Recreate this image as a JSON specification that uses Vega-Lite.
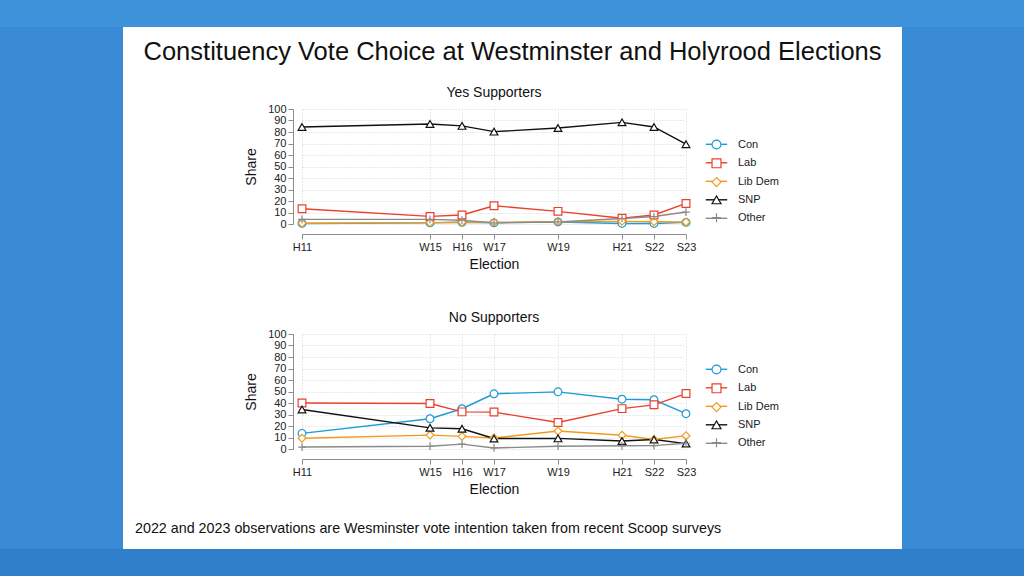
{
  "$schema": "https://vega.github.io/schema/vega-lite/v6.json",
  "padding": 0,
  "background": "white",
  "spacing": 0,
  "datasets": {
    "one": [{"k": 1}],
    "votes": [
      {"group": "Yes", "party": "Con", "year": 2011, "share": 0.5},
      {"group": "Yes", "party": "Con", "year": 2015, "share": 1.0},
      {"group": "Yes", "party": "Con", "year": 2016, "share": 1.5},
      {"group": "Yes", "party": "Con", "year": 2017, "share": 1.0},
      {"group": "Yes", "party": "Con", "year": 2019, "share": 1.8},
      {"group": "Yes", "party": "Con", "year": 2021, "share": 0.5},
      {"group": "Yes", "party": "Con", "year": 2022, "share": 0.5},
      {"group": "Yes", "party": "Con", "year": 2023, "share": 1.4},
      {"group": "Yes", "party": "Lab", "year": 2011, "share": 13.3},
      {"group": "Yes", "party": "Lab", "year": 2015, "share": 6.6},
      {"group": "Yes", "party": "Lab", "year": 2016, "share": 7.8},
      {"group": "Yes", "party": "Lab", "year": 2017, "share": 15.9},
      {"group": "Yes", "party": "Lab", "year": 2019, "share": 11.0},
      {"group": "Yes", "party": "Lab", "year": 2021, "share": 5.0},
      {"group": "Yes", "party": "Lab", "year": 2022, "share": 7.8},
      {"group": "Yes", "party": "Lab", "year": 2023, "share": 17.9},
      {"group": "Yes", "party": "Lib Dem", "year": 2011, "share": 0.7},
      {"group": "Yes", "party": "Lib Dem", "year": 2015, "share": 1.2},
      {"group": "Yes", "party": "Lib Dem", "year": 2016, "share": 1.5},
      {"group": "Yes", "party": "Lib Dem", "year": 2017, "share": 1.5},
      {"group": "Yes", "party": "Lib Dem", "year": 2019, "share": 2.0},
      {"group": "Yes", "party": "Lib Dem", "year": 2021, "share": 2.3},
      {"group": "Yes", "party": "Lib Dem", "year": 2022, "share": 2.0},
      {"group": "Yes", "party": "Lib Dem", "year": 2023, "share": 1.8},
      {"group": "Yes", "party": "SNP", "year": 2011, "share": 84.4},
      {"group": "Yes", "party": "SNP", "year": 2015, "share": 87.0},
      {"group": "Yes", "party": "SNP", "year": 2016, "share": 85.3},
      {"group": "Yes", "party": "SNP", "year": 2017, "share": 80.3},
      {"group": "Yes", "party": "SNP", "year": 2019, "share": 83.5},
      {"group": "Yes", "party": "SNP", "year": 2021, "share": 88.4},
      {"group": "Yes", "party": "SNP", "year": 2022, "share": 84.4},
      {"group": "Yes", "party": "SNP", "year": 2023, "share": 69.4},
      {"group": "Yes", "party": "Other", "year": 2011, "share": 4.0},
      {"group": "Yes", "party": "Other", "year": 2015, "share": 4.0},
      {"group": "Yes", "party": "Other", "year": 2016, "share": 3.3},
      {"group": "Yes", "party": "Other", "year": 2017, "share": 1.0},
      {"group": "Yes", "party": "Other", "year": 2019, "share": 1.8},
      {"group": "Yes", "party": "Other", "year": 2021, "share": 4.8},
      {"group": "Yes", "party": "Other", "year": 2022, "share": 6.5},
      {"group": "Yes", "party": "Other", "year": 2023, "share": 10.4},
      {"group": "No", "party": "Con", "year": 2011, "share": 13.6},
      {"group": "No", "party": "Con", "year": 2015, "share": 26.3},
      {"group": "No", "party": "Con", "year": 2016, "share": 35.0},
      {"group": "No", "party": "Con", "year": 2017, "share": 48.0},
      {"group": "No", "party": "Con", "year": 2019, "share": 49.7},
      {"group": "No", "party": "Con", "year": 2021, "share": 43.3},
      {"group": "No", "party": "Con", "year": 2022, "share": 42.8},
      {"group": "No", "party": "Con", "year": 2023, "share": 30.7},
      {"group": "No", "party": "Lab", "year": 2011, "share": 40.0},
      {"group": "No", "party": "Lab", "year": 2015, "share": 39.6},
      {"group": "No", "party": "Lab", "year": 2016, "share": 32.3},
      {"group": "No", "party": "Lab", "year": 2017, "share": 32.1},
      {"group": "No", "party": "Lab", "year": 2019, "share": 23.0},
      {"group": "No", "party": "Lab", "year": 2021, "share": 35.1},
      {"group": "No", "party": "Lab", "year": 2022, "share": 38.4},
      {"group": "No", "party": "Lab", "year": 2023, "share": 48.2},
      {"group": "No", "party": "Lib Dem", "year": 2011, "share": 9.4},
      {"group": "No", "party": "Lib Dem", "year": 2015, "share": 12.1},
      {"group": "No", "party": "Lib Dem", "year": 2016, "share": 11.0},
      {"group": "No", "party": "Lib Dem", "year": 2017, "share": 9.6},
      {"group": "No", "party": "Lib Dem", "year": 2019, "share": 15.6},
      {"group": "No", "party": "Lib Dem", "year": 2021, "share": 12.0},
      {"group": "No", "party": "Lib Dem", "year": 2022, "share": 8.3},
      {"group": "No", "party": "Lib Dem", "year": 2023, "share": 11.6},
      {"group": "No", "party": "SNP", "year": 2011, "share": 34.4},
      {"group": "No", "party": "SNP", "year": 2015, "share": 18.4},
      {"group": "No", "party": "SNP", "year": 2016, "share": 17.6},
      {"group": "No", "party": "SNP", "year": 2017, "share": 9.1},
      {"group": "No", "party": "SNP", "year": 2019, "share": 9.2},
      {"group": "No", "party": "SNP", "year": 2021, "share": 7.0},
      {"group": "No", "party": "SNP", "year": 2022, "share": 8.2},
      {"group": "No", "party": "SNP", "year": 2023, "share": 4.7},
      {"group": "No", "party": "Other", "year": 2011, "share": 1.7},
      {"group": "No", "party": "Other", "year": 2015, "share": 2.4},
      {"group": "No", "party": "Other", "year": 2016, "share": 4.2},
      {"group": "No", "party": "Other", "year": 2017, "share": 0.9},
      {"group": "No", "party": "Other", "year": 2019, "share": 2.4},
      {"group": "No", "party": "Other", "year": 2021, "share": 2.8},
      {"group": "No", "party": "Other", "year": 2022, "share": 2.9},
      {"group": "No", "party": "Other", "year": 2023, "share": 5.0}
    ]
  },
  "resolve": {"scale": {"color": "independent", "stroke": "independent", "shape": "independent"}, "legend": {"color": "independent", "stroke": "independent", "shape": "independent"}},
  "vconcat": [
    {
      "data": {"name": "one"},
      "width": 1024, "height": 27,
      "view": {"fill": "#3f93db", "stroke": null},
      "mark": {"type": "text", "text": ""},
      "encoding": {}
    },
    {
      "spacing": 0,
      "resolve": {"scale": {"color": "independent", "stroke": "independent", "shape": "independent"}, "legend": {"color": "independent", "stroke": "independent", "shape": "independent"}},
      "hconcat": [
        {
          "data": {"name": "one"},
          "width": 123, "height": 522,
          "view": {"fill": "#3a8bd5", "stroke": null},
          "mark": {"type": "text", "text": ""},
          "encoding": {}
        },
        {
          "spacing": 0,
          "resolve": {"scale": {"color": "independent", "stroke": "independent", "shape": "independent"}, "legend": {"color": "independent", "stroke": "independent", "shape": "independent"}},
          "vconcat": [
            {
              "data": {"values": [{"label": "Constituency Vote Choice at Westminster and Holyrood Elections"}]},
              "width": 779, "height": 58,
              "mark": {"type": "text", "fontSize": 25.5, "font": "Liberation Sans", "baseline": "alphabetic", "dy": 4, "color": "#111111"},
              "encoding": {"text": {"field": "label"}}
            },
            {
              "spacing": 0,
              "resolve": {"scale": {"color": "independent", "stroke": "independent", "shape": "independent"}, "legend": {"color": "independent", "stroke": "independent", "shape": "independent"}},
              "hconcat": [
                {
                  "data": {"name": "one"},
                  "width": 121, "height": 201,
                  "mark": {"type": "text", "text": ""},
                  "encoding": {}
                },
                {
                  "width": 384, "height": 115,
                  "data": {"name": "votes"},
                  "transform": [{"filter": "datum.group === 'Yes'"}],
                  "title": {"text": "Yes Supporters", "fontSize": 14, "fontWeight": "normal", "baseline": "alphabetic", "offset": -7.5, "anchor": "middle", "frame": "group", "color": "#111111"},
                  "encoding": {
                    "x": {"field": "year", "type": "quantitative", "scale": {"domain": [2011, 2023], "nice": false, "zero": false},
                      "axis": {"values": [2011, 2015, 2016, 2017, 2019, 2021, 2022, 2023], "labelExpr": "{'2011':'H11','2015':'W15','2016':'H16','2017':'W17','2019':'W19','2021':'H21','2022':'S22','2023':'S23'}[datum.value]", "title": "Election", "offset": 10, "labelFlush": false, "labelOverlap": false, "tickSize": 5, "labelPadding": 2, "titlePadding": 5, "grid": true}},
                    "y": {"field": "share", "type": "quantitative", "scale": {"domain": [0, 100], "nice": false},
                      "axis": {"values": [0, 10, 20, 30, 40, 50, 60, 70, 80, 90, 100], "title": "Share", "offset": 9, "tickSize": 5, "labelPadding": 2, "titlePadding": 9, "grid": true, "labelFlush": false}}
                  },
                  "layer": [
                    {"mark": {"type": "line", "strokeWidth": 1.4},
                      "encoding": {"stroke": {"field": "party", "type": "nominal", "sort": ["Con", "Lab", "Lib Dem", "SNP", "Other"],
                        "scale": {"range": ["#1f9bd7", "#e8412c", "#f39a1c", "#111111", "#8a8a8a"]},
                        "legend": {"title": null, "orient": "none", "legendX": 409, "legendY": 29.8, "padding": 0, "symbolSize": 80, "symbolType": "M-2.4,0H2.4", "symbolStrokeWidth": 1.4, "labelExpr": "''", "labelFontSize": 11, "labelOffset": 16, "rowPadding": 6.5, "zindex": 1}}}},
                    {"mark": {"type": "point", "filled": false, "fill": "white", "size": 60, "strokeWidth": 1.2, "opacity": 1},
                      "encoding": {
                        "color": {"field": "party", "type": "nominal", "sort": ["Con", "Lab", "Lib Dem", "SNP", "Other"],
                          "scale": {"domain": ["Con", "Lab", "Lib Dem", "SNP", "Other"], "range": ["#1f9bd7", "#e8412c", "#f39a1c", "#111111", "#8a8a8a"]},
                          "legend": {"title": null, "orient": "none", "legendX": 409, "legendY": 30, "padding": 0, "symbolSize": 80, "labelFontSize": 11, "labelOffset": 16, "rowPadding": 3.8, "labelColor": "#222222", "symbolStrokeWidth": 1.2, "symbolFillColor": "white", "zindex": 2}},
                        "shape": {"field": "party", "type": "nominal", "sort": ["Con", "Lab", "Lib Dem", "SNP", "Other"],
                          "scale": {"domain": ["Con", "Lab", "Lib Dem", "SNP", "Other"], "range": ["circle", "square", "diamond", "triangle-up", "M-1,0H1M0,-1V1"]},
                          "legend": {"title": null, "orient": "none", "legendX": 409, "legendY": 30, "padding": 0, "symbolSize": 80, "labelFontSize": 11, "labelOffset": 16, "rowPadding": 3.8, "labelColor": "#222222", "symbolStrokeWidth": 1.2, "symbolFillColor": "white", "zindex": 2}}
                      }}
                  ]
                }
              ]
            },
            {
              "spacing": 0,
              "resolve": {"scale": {"color": "independent", "stroke": "independent", "shape": "independent"}, "legend": {"color": "independent", "stroke": "independent", "shape": "independent"}},
              "hconcat": [
                {
                  "data": {"name": "one"},
                  "width": 121, "height": 188,
                  "mark": {"type": "text", "text": ""},
                  "encoding": {}
                },
                {
                  "width": 384, "height": 115,
                  "data": {"name": "votes"},
                  "transform": [{"filter": "datum.group === 'No'"}],
                  "title": {"text": "No Supporters", "fontSize": 14, "fontWeight": "normal", "baseline": "alphabetic", "offset": -7.5, "anchor": "middle", "frame": "group", "color": "#111111"},
                  "encoding": {
                    "x": {"field": "year", "type": "quantitative", "scale": {"domain": [2011, 2023], "nice": false, "zero": false},
                      "axis": {"values": [2011, 2015, 2016, 2017, 2019, 2021, 2022, 2023], "labelExpr": "{'2011':'H11','2015':'W15','2016':'H16','2017':'W17','2019':'W19','2021':'H21','2022':'S22','2023':'S23'}[datum.value]", "title": "Election", "offset": 10, "labelFlush": false, "labelOverlap": false, "tickSize": 5, "labelPadding": 2, "titlePadding": 5, "grid": true}},
                    "y": {"field": "share", "type": "quantitative", "scale": {"domain": [0, 100], "nice": false},
                      "axis": {"values": [0, 10, 20, 30, 40, 50, 60, 70, 80, 90, 100], "title": "Share", "offset": 9, "tickSize": 5, "labelPadding": 2, "titlePadding": 9, "grid": true, "labelFlush": false}}
                  },
                  "layer": [
                    {"mark": {"type": "line", "strokeWidth": 1.4},
                      "encoding": {"stroke": {"field": "party", "type": "nominal", "sort": ["Con", "Lab", "Lib Dem", "SNP", "Other"],
                        "scale": {"range": ["#1f9bd7", "#e8412c", "#f39a1c", "#111111", "#8a8a8a"]},
                        "legend": {"title": null, "orient": "none", "legendX": 409, "legendY": 29.8, "padding": 0, "symbolSize": 80, "symbolType": "M-2.4,0H2.4", "symbolStrokeWidth": 1.4, "labelExpr": "''", "labelFontSize": 11, "labelOffset": 16, "rowPadding": 6.5, "zindex": 1}}}},
                    {"mark": {"type": "point", "filled": false, "fill": "white", "size": 60, "strokeWidth": 1.2, "opacity": 1},
                      "encoding": {
                        "color": {"field": "party", "type": "nominal", "sort": ["Con", "Lab", "Lib Dem", "SNP", "Other"],
                          "scale": {"domain": ["Con", "Lab", "Lib Dem", "SNP", "Other"], "range": ["#1f9bd7", "#e8412c", "#f39a1c", "#111111", "#8a8a8a"]},
                          "legend": {"title": null, "orient": "none", "legendX": 409, "legendY": 30, "padding": 0, "symbolSize": 80, "labelFontSize": 11, "labelOffset": 16, "rowPadding": 3.8, "labelColor": "#222222", "symbolStrokeWidth": 1.2, "symbolFillColor": "white", "zindex": 2}},
                        "shape": {"field": "party", "type": "nominal", "sort": ["Con", "Lab", "Lib Dem", "SNP", "Other"],
                          "scale": {"domain": ["Con", "Lab", "Lib Dem", "SNP", "Other"], "range": ["circle", "square", "diamond", "triangle-up", "M-1,0H1M0,-1V1"]},
                          "legend": {"title": null, "orient": "none", "legendX": 409, "legendY": 30, "padding": 0, "symbolSize": 80, "labelFontSize": 11, "labelOffset": 16, "rowPadding": 3.8, "labelColor": "#222222", "symbolStrokeWidth": 1.2, "symbolFillColor": "white", "zindex": 2}}
                      }}
                  ]
                }
              ]
            },
            {
              "data": {"values": [{"label": "2022 and 2023 observations are Wesminster vote intention taken from recent Scoop surveys"}]},
              "width": 24, "height": 12,
              "mark": {"type": "text", "align": "left", "fontSize": 14.3, "font": "Liberation Sans", "baseline": "alphabetic", "dy": 5, "color": "#111111"},
              "encoding": {"text": {"field": "label"}}
            }
          ]
        },
        {
          "data": {"name": "one"},
          "width": 122, "height": 522,
          "view": {"fill": "#3a8bd5", "stroke": null},
          "mark": {"type": "text", "text": ""},
          "encoding": {}
        }
      ]
    },
    {
      "data": {"name": "one"},
      "width": 1024, "height": 27,
      "view": {"fill": "#2f7fcb", "stroke": null},
      "mark": {"type": "text", "text": ""},
      "encoding": {}
    }
  ],
  "config": {
    "font": "Liberation Sans",
    "view": {"stroke": null},
    "axis": {
      "domainColor": "#8c8c8c", "tickColor": "#8c8c8c", "gridColor": "#d4d4d4", "gridDash": [1, 2],
      "labelColor": "#222222", "titleColor": "#111111", "titleFontWeight": "normal",
      "labelFontSize": 11, "titleFontSize": 14, "labelFont": "Liberation Sans", "titleFont": "Liberation Sans"
    },
    "legend": {"labelFont": "Liberation Sans"},
    "title": {"font": "Liberation Sans"}
  }
}
